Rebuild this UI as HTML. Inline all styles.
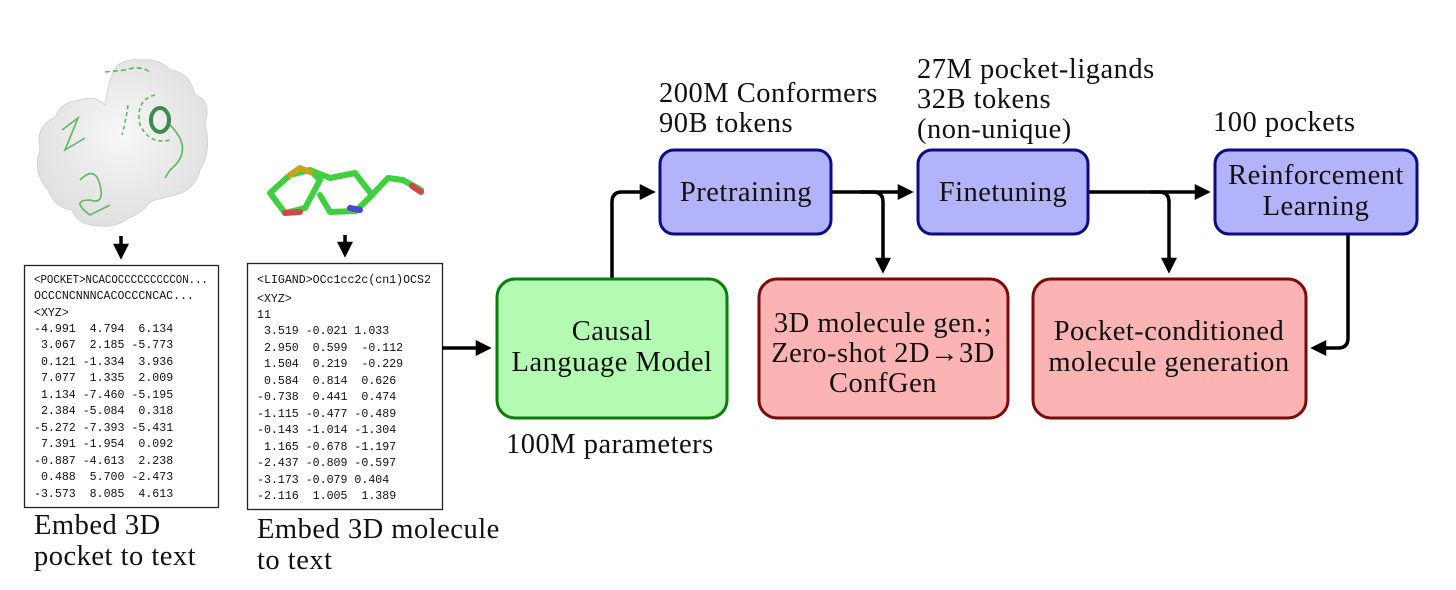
<!DOCTYPE html>
<html><head><meta charset="utf-8"><style>
html,body{margin:0;padding:0;background:#fff;}
svg{display:block;}
.s{font-family:"Liberation Serif",serif;font-size:28.5px;letter-spacing:0.5px;fill:#111;}
.m{font-family:"Liberation Mono",monospace;font-size:11.6px;fill:#111;}
</style></head><body>
<svg width="1456" height="590" viewBox="0 0 1456 590" xmlns="http://www.w3.org/2000/svg">
<defs>
<marker id="ah" markerWidth="16" markerHeight="16" refX="9" refY="7" orient="auto" markerUnits="userSpaceOnUse" viewBox="0 0 14 14">
<path d="M0,0 L14,7 L0,14 z" fill="#000"/></marker>
<radialGradient id="g" cx="50%" cy="45%" r="60%"><stop offset="0" stop-color="#f7f7f7"/><stop offset="1" stop-color="#dedede"/></radialGradient>
</defs>
<path d="M40,150 Q35,125 55,118 Q60,102 80,100 Q95,95 105,105 Q108,85 112,75 Q118,58 140,60 Q160,58 170,70 Q190,72 195,95 Q212,100 205,125 Q212,150 200,170 Q195,190 175,195 Q160,198 150,202 Q140,215 128,218 Q115,228 100,226 Q78,226 72,210 Q55,208 48,190 Q32,172 40,150 z" fill="url(#g)" stroke="#d4d4d4" stroke-width="1"/>
<g fill="none" stroke="#5cb85c" stroke-width="1.6">
<path d="M62,130 L78,118 L65,150 L85,138"/>
<path d="M80,180 Q95,165 100,185 Q105,205 90,200 Q70,200 90,215 L110,205"/>
<path d="M105,72 L125,70 Q140,65 150,72" stroke-dasharray="5,3"/>
<path d="M155,95 Q135,100 140,125 Q150,145 170,140" stroke-dasharray="4,3"/>
<path d="M170,125 Q195,150 170,170 L165,178"/>
<path d="M128,105 Q125,125 122,135" stroke-dasharray="4,3"/>
</g>
<ellipse cx="160" cy="120" rx="9" ry="12" fill="none" stroke="#3c8a4c" stroke-width="4"/>
<g stroke-linecap="round" stroke-linejoin="round" fill="none" stroke-width="6">
<path d="M290,175 L270,193 L285,213 L305,208 L320,180 L310,170 z" stroke="#3fcf3f"/>
<path d="M310,170 L330,178 L355,173 L372,195 L356,211 L330,212 L320,195" stroke="#3fcf3f"/>
<path d="M372,195 L388,178 L403,180 L421,190" stroke="#3fcf3f"/>
<path d="M290,175 L300,168 L310,172" stroke="#c9a020"/>
<path d="M285,213 L300,212" stroke="#d04848"/>
<path d="M350,208 L360,210" stroke="#4848d8"/>
<path d="M412,186 L421,192" stroke="#d04848"/>
</g>
<line x1="121" y1="236" x2="121" y2="254" stroke="#000" stroke-width="3.5" marker-end="url(#ah)"/>
<line x1="345" y1="235" x2="345" y2="252" stroke="#000" stroke-width="3.5" marker-end="url(#ah)"/>
<rect x="24.5" y="265.5" width="194" height="242" fill="#fff" stroke="#222" stroke-width="1.3"/>
<rect x="247.5" y="263.5" width="195" height="246" fill="#fff" stroke="#222" stroke-width="1.3"/>
<g class="m">
<text x="34" y="283" textLength="174" lengthAdjust="spacingAndGlyphs" xml:space="preserve">&lt;POCKET&gt;NCACOCCCCCCCCCON...</text>
<text x="34" y="299" textLength="160" lengthAdjust="spacingAndGlyphs" xml:space="preserve">OCCCNCNNNCACOCCCNCAC...</text>
<text x="34" y="316" xml:space="preserve">&lt;XYZ&gt;</text>
<text x="34" y="332" xml:space="preserve">-4.991  4.794  6.134</text>
<text x="34" y="348" xml:space="preserve"> 3.067  2.185 -5.773</text>
<text x="34" y="365" xml:space="preserve"> 0.121 -1.334  3.936</text>
<text x="34" y="381" xml:space="preserve"> 7.077  1.335  2.009</text>
<text x="34" y="398" xml:space="preserve"> 1.134 -7.460 -5.195</text>
<text x="34" y="414" xml:space="preserve"> 2.384 -5.084  0.318</text>
<text x="34" y="431" xml:space="preserve">-5.272 -7.393 -5.431</text>
<text x="34" y="447" xml:space="preserve"> 7.391 -1.954  0.092</text>
<text x="34" y="464" xml:space="preserve">-0.887 -4.613  2.238</text>
<text x="34" y="480" xml:space="preserve"> 0.488  5.700 -2.473</text>
<text x="34" y="497" xml:space="preserve">-3.573  8.085  4.613</text>
<text x="257" y="283" xml:space="preserve">&lt;LIGAND&gt;OCc1cc2c(cn1)OCS2</text>
<text x="257" y="302" xml:space="preserve">&lt;XYZ&gt;</text>
<text x="257" y="318" xml:space="preserve">11</text>
<text x="257" y="334" xml:space="preserve"> 3.519 -0.021 1.033</text>
<text x="257" y="351" xml:space="preserve"> 2.950  0.599  -0.112</text>
<text x="257" y="367" xml:space="preserve"> 1.504  0.219  -0.229</text>
<text x="257" y="384" xml:space="preserve"> 0.584  0.814  0.626</text>
<text x="257" y="400" xml:space="preserve">-0.738  0.441  0.474</text>
<text x="257" y="417" xml:space="preserve">-1.115 -0.477 -0.489</text>
<text x="257" y="433" xml:space="preserve">-0.143 -1.014 -1.304</text>
<text x="257" y="450" xml:space="preserve"> 1.165 -0.678 -1.197</text>
<text x="257" y="466" xml:space="preserve">-2.437 -0.809 -0.597</text>
<text x="257" y="483" xml:space="preserve">-3.173 -0.079 0.404</text>
<text x="257" y="499" xml:space="preserve">-2.116  1.005  1.389</text>
</g>
<g class="s">
<text x="34" y="534">Embed 3D</text>
<text x="34" y="565">pocket to text</text>
<text x="257" y="538">Embed 3D molecule</text>
<text x="257" y="569">to text</text>
<text x="659" y="102">200M Conformers</text>
<text x="659" y="132">90B tokens</text>
<text x="917" y="78">27M pocket-ligands</text>
<text x="917" y="108">32B tokens</text>
<text x="917" y="138">(non-unique)</text>
<text x="1213" y="131">100 pockets</text>
<text x="506" y="453">100M parameters</text>
</g>
<g fill="none" stroke="#000" stroke-width="3.5">
<line x1="442" y1="348" x2="486" y2="348" marker-end="url(#ah)"/>
<path d="M612,278 L612,202 Q612,192 622,192 L650,192" marker-end="url(#ah)"/>
<line x1="831" y1="192" x2="908" y2="192" marker-end="url(#ah)"/>
<path d="M860,192 L873,192 Q883,192 883,202 L883,268" marker-end="url(#ah)"/>
<line x1="1088" y1="192" x2="1205" y2="192" marker-end="url(#ah)"/>
<path d="M1150,192 L1159,192 Q1169,192 1169,202 L1169,268" marker-end="url(#ah)"/>
<path d="M1348,234 L1348,338 Q1348,348 1338,348 L1316,348" marker-end="url(#ah)"/>
</g>
<rect x="660" y="150" width="171" height="84" rx="14" fill="#b3b3fb" stroke="#0b0b85" stroke-width="3"/>
<rect x="918" y="150" width="170" height="84" rx="14" fill="#b3b3fb" stroke="#0b0b85" stroke-width="3"/>
<rect x="1215" y="150" width="202" height="84" rx="14" fill="#b3b3fb" stroke="#0b0b85" stroke-width="3"/>
<rect x="497" y="279" width="230" height="139" rx="18" fill="#b3fbb3" stroke="#0a7d0a" stroke-width="3"/>
<rect x="759" y="279" width="249" height="139" rx="18" fill="#fbb3b3" stroke="#7d0a0a" stroke-width="3"/>
<rect x="1033" y="279" width="273" height="139" rx="18" fill="#fbb3b3" stroke="#7d0a0a" stroke-width="3"/>
<g class="s" text-anchor="middle">
<text x="746" y="201">Pretraining</text>
<text x="1003" y="201">Finetuning</text>
<text x="1316" y="184">Reinforcement</text>
<text x="1316" y="215">Learning</text>
<text x="612" y="340">Causal</text>
<text x="612" y="371">Language Model</text>
<text x="883" y="332">3D molecule gen.;</text>
<text x="883" y="362">Zero-shot 2D→3D</text>
<text x="883" y="392">ConfGen</text>
<text x="1169" y="340">Pocket-conditioned</text>
<text x="1169" y="371">molecule generation</text>
</g>
</svg>
</body></html>
